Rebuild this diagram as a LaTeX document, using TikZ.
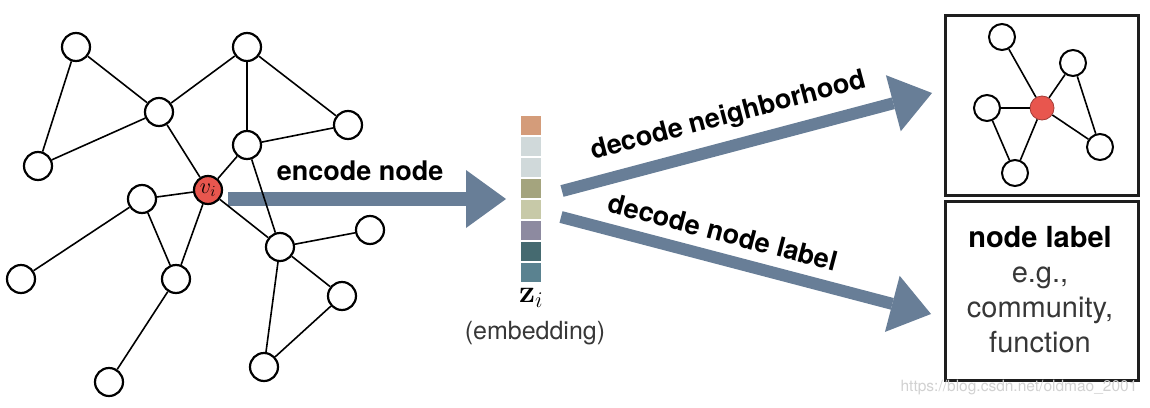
\RequirePackage{fix-cm}
\documentclass[tikz,border=0pt]{standalone}
\usepackage[no-math]{fontspec}
\setmainfont{TeX Gyre Heros}
\usetikzlibrary{arrows.meta,positioning}

\definecolor{arrowblue}{RGB}{104,126,151}
\definecolor{nodered}{RGB}{232,86,78}
\definecolor{boxline}{RGB}{30,30,30}
\definecolor{textgray}{RGB}{55,55,55}
\definecolor{cellA}{RGB}{212,156,122}
\definecolor{cellB}{RGB}{208,217,218}
\definecolor{cellC}{RGB}{164,164,126}
\definecolor{cellD}{RGB}{199,201,168}
\definecolor{cellE}{RGB}{141,138,160}
\definecolor{cellF}{RGB}{69,106,112}
\definecolor{cellG}{RGB}{90,130,144}

\tikzset{
  vertex/.style={circle, draw=black, fill=white, line width=2.2pt, minimum size=28pt, inner sep=0pt},
  hub/.style={vertex, fill=nodered},
  smallvertex/.style={vertex, line width=2pt, minimum size=26pt},
  smallhub/.style={circle, draw=nodered!70!black, line width=0.8pt, fill=nodered, minimum size=24pt, inner sep=0pt},
  edge/.style={line width=1.6pt},
  fatarrow/.style={draw=arrowblue, line width=14pt, -{Triangle[length=40pt,width=58pt,line width=0pt]}},
  cell/.style={minimum width=20pt, minimum height=19.5pt, inner sep=0pt},
  lbl/.style={font=\fontsize{27}{32}\selectfont\bfseries},
  outbox/.style={draw=boxline, line width=3pt, minimum width=193pt, minimum height=180pt}
}

\begin{document}
\begin{tikzpicture}[x=1pt,y=-1pt]
  \useasboundingbox (0,0) rectangle (1150,407);

  % --- Input graph ---
  \foreach \n/\x/\y in {a/76/47, b/247/47, c/159/112, d/348/125, e/38/166,
      f/247/145, h/142/199, i/370/230, j/280/247, k/21/279, l/176/279,
      m/342/296, n/264/367, o/109/382}
    \node[vertex] (\n) at (\x,\y) {};
  \node[hub] (vi) at (208,190) {\fontsize{22}{22}\selectfont$v_i$};

  % --- Encoder arrow (under the edges) ---
  \coordinate (encS) at (228,199);
  \coordinate (encE) at (506,199);
  \draw[fatarrow] (encS) -- (encE)
      node[lbl, pos=0.475, above=8pt] (enctxt) {encode node};

  \foreach \s/\t in {a/c, a/e, c/e, c/b, b/f, b/d, d/f, c/vi, f/vi, f/j,
      vi/h, vi/l, h/l, h/k, vi/j, j/i, j/m, j/n, m/n, l/o}
    \draw[edge] (\s) -- (\t);

  % --- Embedding vector ---
  \foreach \c [count=\k] in {cellA,cellB,cellB,cellC,cellD,cellE,cellF,cellG}
    \node[cell, fill=\c] (z\k) at (531,104.5+21*\k) {};
  \node (zi) at (531,298) {\fontsize{32}{32}\selectfont$\mathbf{z}_i$};
  \node[font=\fontsize{25}{28}\selectfont, text=textgray] (emb) at (535,333) {(embedding)};

  % --- Decoder arrows ---
  \coordinate (upS) at (562,191);
  \coordinate (upE) at (932,93);
  \coordinate (loS) at (561,217);
  \coordinate (loE) at (931,314);
  \draw[fatarrow, line width=12pt] (upS) -- (upE)
      node[lbl, pos=0.47, sloped, above=7pt] (nbtxt) {decode neighborhood};
  \draw[fatarrow, line width=12pt] (loS) -- (loE)
      node[lbl, pos=0.42, sloped, above=7pt] (lbtxt) {decode node label};

  % --- Output: neighborhood ---
  \node[outbox] (nbbox) at (1041.5,105) {};
  \foreach \n/\x/\y in {sa/1002/37, sb/1073/63, sc/987/108, sd/1100/147, se/1015/173}
    \node[smallvertex] (\n) at (\x,\y) {};
  \node[smallhub] (sh) at (1042,108) {};
  \foreach \s/\t in {sa/sh, sb/sh, sc/sh, sc/se, se/sh, sh/sd, sb/sd}
    \draw[edge] (\s) -- (\t);

  % --- Output: node label ---
  \node[outbox, minimum height=179pt] (lbbox) at (1041.5,290.5) {};
  \node[align=center, font=\fontsize{29}{35}\selectfont, text=textgray, anchor=north]
      (lbtext) at (1040,223) {\textcolor{black}{\bfseries node label}\\e.g.,\\community,\\function};

  % watermark
  \node[font=\fontsize{15.5}{16}\selectfont, text=black!18] (wm) at (1019,388)
      {https://blog.csdn.net/oldmao\_2001};
\end{tikzpicture}
\end{document}
